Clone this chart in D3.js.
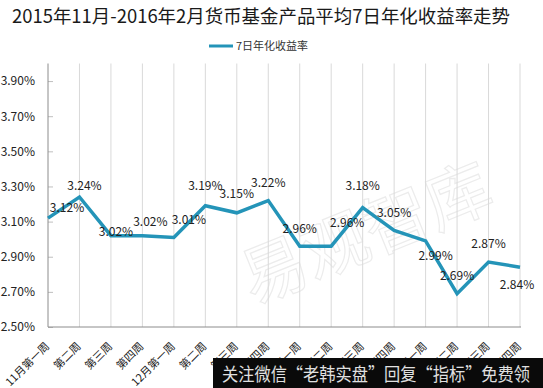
<!DOCTYPE html>
<html><head><meta charset="utf-8">
<script src="https://cdn.jsdelivr.net/npm/d3@7"></script>
<style>
body{margin:0;background:#fff;}
svg{display:block;font-family:"Noto Sans CJK SC","Microsoft YaHei",sans-serif;}
</style></head>
<body><svg id="c" width="543" height="388"></svg>
<script>
const categories = ["11月第一周","第二周","第三周","第四周","12月第一周","第二周","第三周","第四周","1月第一周","第二周","第三周","第四周","2月第一周","第二周","第三周","第四周"];
const values = [3.12,3.24,3.02,3.02,3.01,3.19,3.15,3.22,2.96,2.96,3.18,3.05,2.99,2.69,2.87,2.84];
const yTicks = [2.5,2.7,2.9,3.1,3.3,3.5,3.7,3.9];
const seriesName = "7日年化收益率";
const title = "2015年11月-2016年2月货币基金产品平均7日年化收益率走势";
// label placement offsets (layout only)
const labelOffsets = [[19,-10],[5,-11],[5,-4],[8,-14],[15,-18],[0,-20],[0,-19],[0,-18],[0,-18],[16,-24],[0,-22],[0,-18],[10,15],[0,-18],[0,-18],[-3,17]];

const svg = d3.select("#c");
const color = "#2494b8";
const x = d3.scalePoint().domain(d3.range(categories.length)).range([48,520]);
const y = d3.scaleLinear().domain([2.5,4.0]).range([327,63.5]);

// watermark
svg.append("text").attr("x",375).attr("y",255).attr("text-anchor","middle")
  .attr("transform","rotate(-22,375,255)")
  .attr("font-size",66).attr("fill","none").attr("stroke","#ececec").attr("stroke-width",1.2)
  .text("易观智库");

// gridlines
svg.append("g").selectAll("line").data(d3.range(1,categories.length)).join("line")
  .attr("x1",d=>x(d)).attr("x2",d=>x(d)).attr("y1",y(4.0)).attr("y2",y(2.5))
  .attr("stroke","#d9d9d9").attr("stroke-width",1);

// y axis
const ya = svg.append("g").attr("transform","translate(48,0)")
  .call(d3.axisRight(y).tickValues(yTicks).tickSize(5).tickFormat(""));
ya.select(".domain").remove();
ya.selectAll("line").attr("stroke","#bfbfbf");
svg.append("line").attr("x1",48).attr("x2",48).attr("y1",y(4.0)).attr("y2",y(2.5)).attr("stroke","#8c8c8c");
svg.append("g").selectAll("text").data(yTicks).join("text")
  .attr("x",35).attr("y",d=>y(d)).attr("dy","0.36em").attr("text-anchor","end")
  .attr("font-size",12).attr("fill","#222").text(d=>d.toFixed(2)+"%");

// x axis
svg.append("line").attr("x1",48).attr("x2",521).attr("y1",y(2.5)).attr("y2",y(2.5)).attr("stroke","#8c8c8c");
svg.append("g").selectAll("text").data(categories).join("text")
  .attr("transform",(d,i)=>`translate(${x(i)+2},347) rotate(-45)`)
  .attr("text-anchor","end").attr("font-size",11).attr("fill","#222").text(d=>d);

// line
svg.append("path").datum(values)
  .attr("d",d3.line().x((d,i)=>x(i)).y(d=>y(d)))
  .attr("fill","none").attr("stroke",color).attr("stroke-width",3.5).attr("stroke-linejoin","miter");

// data labels
svg.append("g").selectAll("text").data(values).join("text")
  .attr("x",(d,i)=>x(i)+labelOffsets[i][0]).attr("y",(d,i)=>y(d)+labelOffsets[i][1])
  .attr("dy","0.36em").attr("text-anchor","middle").attr("font-size",12).attr("fill","#222")
  .text(d=>d.toFixed(2)+"%");

// title
svg.append("text").attr("x",12).attr("y",23)
  .attr("font-size",18.5).attr("fill","#1a1a1a")
  .attr("textLength",498).attr("lengthAdjust","spacingAndGlyphs").text(title);

// legend
svg.append("line").attr("x1",209).attr("x2",233).attr("y1",46).attr("y2",46).attr("stroke",color).attr("stroke-width",3);
svg.append("text").attr("x",236).attr("y",50).attr("font-size",11).attr("fill","#333").text(seriesName);

// banner
svg.append("rect").attr("x",213).attr("y",358).attr("width",330).attr("height",30).attr("fill","#0a0a0a");
svg.append("text").attr("x",222).attr("y",381).attr("font-size",18).attr("fill","#e0e0e0")
  .attr("textLength",308).attr("lengthAdjust","spacingAndGlyphs")
  .text("关注微信“老韩实盘”回复“指标”免费领");
</script></body></html>
